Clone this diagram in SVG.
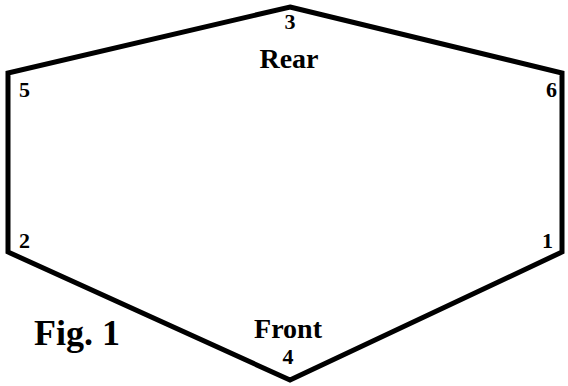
<svg xmlns="http://www.w3.org/2000/svg" width="568" height="386" viewBox="0 0 568 386">
<style>
.t{font-family:"Liberation Serif","Times New Roman",serif;font-weight:bold;fill:#000}
.n{font-size:22px}
.l{font-size:28px;text-anchor:middle}
</style>
<rect width="568" height="386" fill="#fff"/>
<g id="connectors">
<polygon points="290,7 562,73 562,252 290,380 8,252 8,73" fill="none" stroke="#000" stroke-width="5" stroke-linejoin="miter"/>
</g>
<g id="node3"><text class="t n" x="290" y="29" text-anchor="middle">3</text><text class="t l" x="289" y="68">Rear</text></g>
<g id="node5"><text class="t n" x="19" y="97">5</text></g>
<g id="node6"><text class="t n" x="546" y="97">6</text></g>
<g id="node2"><text class="t n" x="19" y="248">2</text></g>
<g id="node1"><text class="t n" x="542" y="248">1</text></g>
<g id="node4"><text class="t l" x="288" y="338">Front</text><text class="t n" x="288" y="364" text-anchor="middle">4</text></g>
<g id="fig"><text class="t" x="34" y="345" font-size="36">Fig. 1</text></g>
</svg>
